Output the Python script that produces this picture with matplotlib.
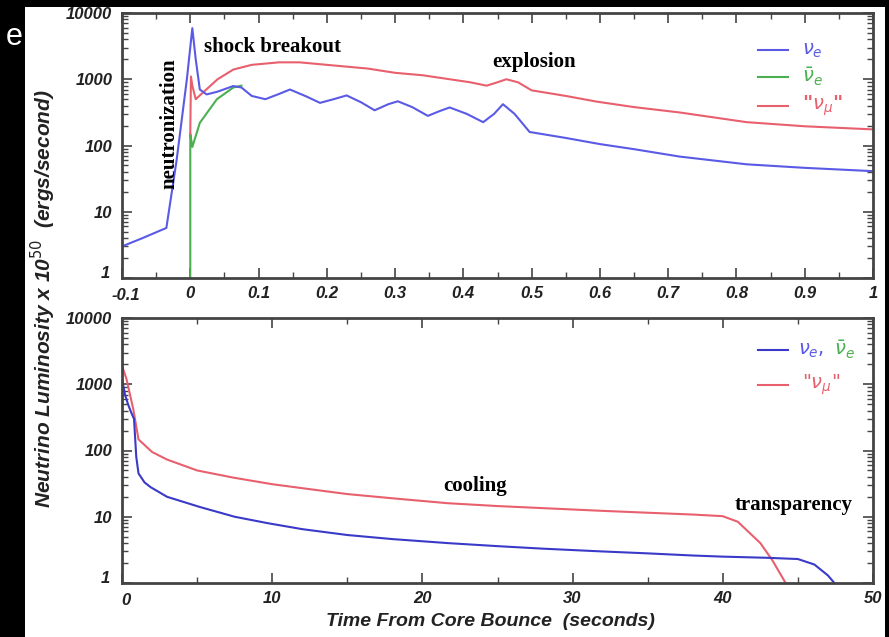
import matplotlib.pyplot as plt
from matplotlib.patches import Rectangle
from matplotlib.transforms import ScaledTranslation
from matplotlib.ticker import LogLocator, MultipleLocator, NullFormatter

# top panel: first second after bounce
t_nue_top = [-0.1, -0.07, -0.035, -0.02, -0.005, 0.003, 0.008, 0.014, 0.024, 0.04,
             0.063, 0.075, 0.09, 0.11, 0.13, 0.146, 0.17, 0.19, 0.21, 0.229,
             0.25, 0.27, 0.29, 0.304, 0.325, 0.348, 0.365, 0.38, 0.405, 0.429,
             0.445, 0.458, 0.475, 0.497, 0.55, 0.6, 0.65, 0.717, 0.815, 0.9, 1.0]
L_nue_top = [3.0, 4.0, 5.7, 60, 1000, 5900, 2000, 700, 590, 650,
             790, 750, 560, 500, 600, 700, 550, 440, 500, 570,
             450, 340, 420, 465, 380, 280, 330, 375, 300, 225,
             300, 420, 300, 160, 130, 105, 88, 68, 52, 46, 41]

t_nuebar_top = [0, 0, 0.003, 0.014, 0.039, 0.063, 0.075]
L_nuebar_top = [0.5, 150, 95, 220, 500, 750, 800]

t_numu_top = [0, 0.001, 0.003, 0.008, 0.02, 0.04, 0.063, 0.09, 0.13, 0.16,
              0.2, 0.229, 0.26, 0.3, 0.34, 0.38, 0.41, 0.434, 0.45, 0.463,
              0.48, 0.5, 0.55, 0.595, 0.65, 0.717, 0.815, 0.9, 1.0]
L_numu_top = [150, 1100, 800, 500, 650, 1000, 1400, 1650, 1800, 1800,
              1650, 1550, 1450, 1250, 1150, 1000, 900, 800, 900, 1000,
              900, 680, 560, 460, 380, 315, 225, 195, 175]

# bottom panel: 50 seconds of cooling
t_nue_bot = [0, 0.2, 0.4, 0.6, 0.8, 0.95, 1.1, 1.5, 1.9, 3, 5.2, 7.5, 9.7, 12,
             15, 18, 21.7, 25, 28, 31.9, 35, 38, 40, 43, 45, 46.1, 47, 47.6]
L_nue_bot = [1200, 700, 500, 380, 300, 80, 45, 33, 28, 20, 14, 10, 8, 6.5,
             5.3, 4.6, 4.0, 3.6, 3.3, 3.0, 2.8, 2.6, 2.5, 2.4, 2.3, 1.9, 1.3, 0.9]

t_numu_bot = [0, 0, 0.3, 0.75, 1.1, 2, 3, 5, 7.4, 10, 12, 15, 18, 21.7, 25, 28,
              31.9, 35, 38, 40, 41, 42.5, 43.3, 44.3]
L_numu_bot = [0.5, 1900, 1200, 420, 147, 95, 73, 50, 39, 31, 27, 22, 19, 16,
              14.5, 13.5, 12.3, 11.5, 10.8, 10.2, 8.4, 4.0, 2.2, 0.9]

BLUE = "#5a5ae6"
BLUE_DARK = "#3a3ac8"
GREEN = "#4caf50"
RED = "#e8606e"

serif = {"family": "Liberation Serif", "weight": "bold", "fontsize": 15}
tickfont = {"family": "Liberation Sans", "weight": "bold", "style": "italic"}


def style_axes(ax, xmajor, xminor):
    ax.set_yscale("log")
    ax.set_ylim(1, 10000)
    ax.xaxis.set_major_locator(MultipleLocator(xmajor))
    ax.xaxis.set_minor_locator(MultipleLocator(xminor))
    ax.yaxis.set_minor_locator(LogLocator(base=10, subs=range(2, 10), numticks=10))
    ax.yaxis.set_minor_formatter(NullFormatter())
    ax.set_yticks([1, 10, 100, 1000, 10000])
    ax.set_yticklabels(["1", "10", "100", "1000", "10000"], **tickfont, fontsize=12)
    ax.tick_params(which="both", direction="in", top=True, right=True,
                   color="#444444", labelcolor="#222222")
    ax.tick_params(which="major", length=7, width=1.2)
    ax.tick_params(which="minor", length=4, width=1.0)
    ax.tick_params(axis="y", pad=7)
    ax.tick_params(axis="x", pad=6)
    for spine in ax.spines.values():
        spine.set_color("#444444")
        spine.set_linewidth(2)


def nudge(label, dx, dy):
    label.set_transform(label.get_transform()
                        + ScaledTranslation(dx / 100, dy / 100, fig.dpi_scale_trans))


fig = plt.figure(figsize=(8.89, 6.37), dpi=100)
fig.patch.set_facecolor("black")
fig.patches.append(Rectangle((25 / 889, 0), 860 / 889, 1 - 7 / 637,
                             transform=fig.transFigure, facecolor="white",
                             edgecolor="none", zorder=-1))
fig.text(6 / 889, 1 - 37 / 637, "e", color="white", fontsize=22,
         family="Liberation Sans", va="center", ha="left")

ax1 = fig.add_axes([122 / 889, 1 - 278 / 637, 751 / 889, 265 / 637])
ax2 = fig.add_axes([122 / 889, 1 - 583 / 637, 751 / 889, 265 / 637])

# top panel
ax1.plot(t_nuebar_top, L_nuebar_top, color=GREEN, lw=1.5)
ax1.plot(t_numu_top, L_numu_top, color=RED, lw=1.5)
ax1.plot(t_nue_top, L_nue_top, color=BLUE, lw=1.5)
ax1.set_xlim(-0.1, 1.0)
style_axes(ax1, 0.1, 0.05)
ax1.set_xticks([-0.1, 0, 0.1, 0.2, 0.3, 0.4, 0.5, 0.6, 0.7, 0.8, 0.9, 1])
ax1.set_xticklabels(["-0.1", "0", "0.1", "0.2", "0.3", "0.4", "0.5", "0.6",
                     "0.7", "0.8", "0.9", "1"], **tickfont, fontsize=12)

ax1.text(0.02, 3100, "shock breakout", ha="left", va="center", **serif)
ax1.text(0.443, 1800, "explosion", ha="left", va="center", **serif)
ax1.text(-0.03, 210, "neutronization", rotation=90, ha="center", va="center", **serif)

# legend, top panel
leg_top = [(0.86, BLUE, r"$\nu_e$"), (0.758, GREEN, r"$\bar{\nu}_e$"),
           (0.649, RED, r'"$\nu_\mu$"')]
for y, color, label in leg_top:
    ax1.plot([0.847, 0.887], [y, y], transform=ax1.transAxes, color=color, lw=1.5)
    ax1.text(0.905, y, label, transform=ax1.transAxes, color=color,
             fontsize=14, ha="left", va="center", fontweight="bold")

# bottom panel
ax2.plot(t_numu_bot, L_numu_bot, color=RED, lw=1.5)
ax2.plot(t_nue_bot, L_nue_bot, color=BLUE_DARK, lw=1.5)
ax2.set_xlim(0, 50)
style_axes(ax2, 10, 5)
ax2.set_xticks([0, 10, 20, 30, 40, 50])
ax2.set_xticklabels(["0", "10", "20", "30", "40", "50"], **tickfont, fontsize=12)

ax2.text(23.5, 29, "cooling", ha="center", va="center", **serif)
ax2.text(44.7, 15, "transparency", ha="center", va="center", **serif)

ax2.plot([0.847, 0.887], [0.879, 0.879], transform=ax2.transAxes, color=BLUE_DARK, lw=1.5)
ax2.plot([0.847, 0.887], [0.747, 0.747], transform=ax2.transAxes, color=RED, lw=1.5)
ax2.text(0.9, 0.879, r"$\nu_e$,", transform=ax2.transAxes, color=BLUE,
         fontsize=14, ha="left", va="center")
ax2.text(0.948, 0.879, r"$\bar{\nu}_e$", transform=ax2.transAxes, color=GREEN,
         fontsize=14, ha="left", va="center")
ax2.text(0.905, 0.747, r'"$\nu_\mu$"', transform=ax2.transAxes, color=RED,
         fontsize=14, ha="left", va="center")

# keep the corner labels apart, as in the original
for ax in (ax1, ax2):
    nudge(ax.get_yticklabels()[0], -2, 6)
    nudge(ax.get_xticklabels()[0], 4, -2)

fig.text(43 / 889, 1 - 299 / 637,
         r"Neutrino Luminosity x 10$^{50}$  (ergs/second)",
         rotation=90, ha="center", va="center", fontsize=15,
         family="Liberation Sans", weight="bold", style="italic", color="#222222")
fig.text(490 / 889, 1 - 622 / 637, "Time From Core Bounce  (seconds)",
         ha="center", va="center", fontsize=14,
         family="Liberation Sans", weight="bold", style="italic", color="#222222")

fig.savefig("out.png", dpi=100, facecolor=fig.get_facecolor())
